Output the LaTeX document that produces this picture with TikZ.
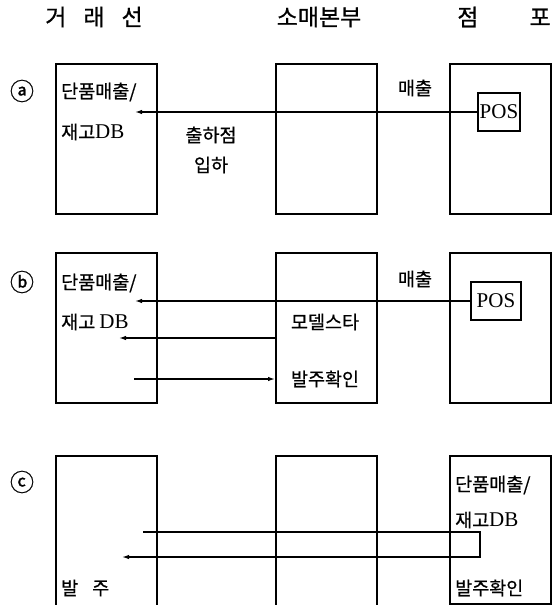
\documentclass[tikz,border=0pt]{standalone}
\usepackage{fontspec}
\setmainfont{Liberation Serif}
\newfontfamily\kr[FakeBold=0.7]{Noto Sans CJK KR}
\newfontfamily\lat{Liberation Serif}
\newcommand{\dbtxt}{{\lat\fontsize{21}{22}\selectfont DB}}
\usepackage{tikz}
\usetikzlibrary{arrows.meta, positioning, calc}

\begin{document}
\begin{tikzpicture}[
  x=1pt, y=-1pt,
  >=Latex,
  unit/.style={draw, line width=1.5pt, anchor=north west, minimum width=101pt, minimum height=150pt, inner sep=0pt},
  posbox/.style={draw, line width=1.4pt, minimum height=38pt, inner sep=1pt, font=\fontsize{21}{22}\selectfont},
  head/.style={inner sep=0pt, font=\kr\fontsize{23}{25}\selectfont},
  lbl/.style={inner sep=0pt, font=\kr\fontsize{18.5}{21}\selectfont},
  tag/.style={lbl, font=\kr\fontsize{24}{26}\selectfont},
  arrow/.style={-{Latex[length=7pt, width=4.5pt]}, line width=1.3pt}
]
  \useasboundingbox (0,0) rectangle (553,605);

  % EN-TETES ================================
  \node[head] (hVend) at (94,17) {거\hspace{17pt}래\hspace{17pt}선};
  \node[head] (hHq) at (319,17) {소매본부};
  \node[head] (hShop) at (504,17) {점\hspace{51pt}포};

  % LIGNE a ================================
  \node[unit] (vendA) at (55,63) {};
  \node[unit] (hqA) at (275,63) {};
  \node[unit] (shopA) at (449,63) {};
  \node[tag] (tagA) at (22,91) {ⓐ};
  \node[lbl, anchor=west] (itemA) at (61,92) {단품매출/};
  \node[lbl, anchor=west] (dbA) at (61,132) {재고\dbtxt};
  \node[posbox, minimum width=42pt] (posA) at (499,112) {POS};
  \node[lbl] (salesA) at (415,88) {매출};
  \node[lbl] (shipA) at (211,135) {출하점};
  \node[lbl] (recvA) at (211,165) {입하};
  \coordinate (tipA) at (135,112);

  % LIGNE b ================================
  \node[unit] (vendB) at (55,252) {};
  \node[unit] (hqB) at (275,252) {};
  \node[unit] (shopB) at (449,252) {};
  \node[tag] (tagB) at (22,282) {ⓑ};
  \node[lbl, anchor=west] (itemB) at (61,283) {단품매출/};
  \node[lbl, anchor=west] (dbB) at (61,322) {재고 \dbtxt};
  \node[posbox, minimum width=50pt] (posB) at (496,301) {POS};
  \node[lbl] (salesB) at (415,279) {매출};
  \node[lbl] (modelB) at (325,322) {모델스타};
  \node[lbl] (checkB) at (325,379) {발주확인};
  \coordinate (tipB1) at (135,301);
  \coordinate (tipB2) at (119,338);
  \coordinate (tailB3) at (134,379);

  % LIGNE c ================================
  \node[unit] (vendC) at (55,455) {};
  \node[unit] (hqC) at (275,455) {};
  \node[unit, minimum height=148pt] (shopC) at (449,455) {};
  \node[tag] (tagC) at (22,482) {ⓒ};
  \node[lbl, anchor=west] (orderC) at (61,588) {발\hspace{14pt}주};
  \node[lbl, anchor=west] (itemC) at (455,485) {단품매출/};
  \node[lbl, anchor=west] (dbC) at (455,520) {재고\dbtxt};
  \node[lbl, anchor=west] (checkC) at (455,588) {발주확인};
  \coordinate (tailC) at (143,532);
  \coordinate (turnC) at (480,557);
  \coordinate (tipC) at (122,557);

  % Fleches
  \draw[arrow] (posA.west) -- (tipA);
  \draw[arrow] (posB.west) -- (tipB1);
  \draw[arrow] (hqB.west |- tipB2) -- (tipB2);
  \draw[arrow] (tailB3) -- (tailB3 -| hqB.west);
  \draw[arrow] (tailC) -- (tailC -| turnC) -- (turnC) -- (tipC);

\end{tikzpicture}
\end{document}
